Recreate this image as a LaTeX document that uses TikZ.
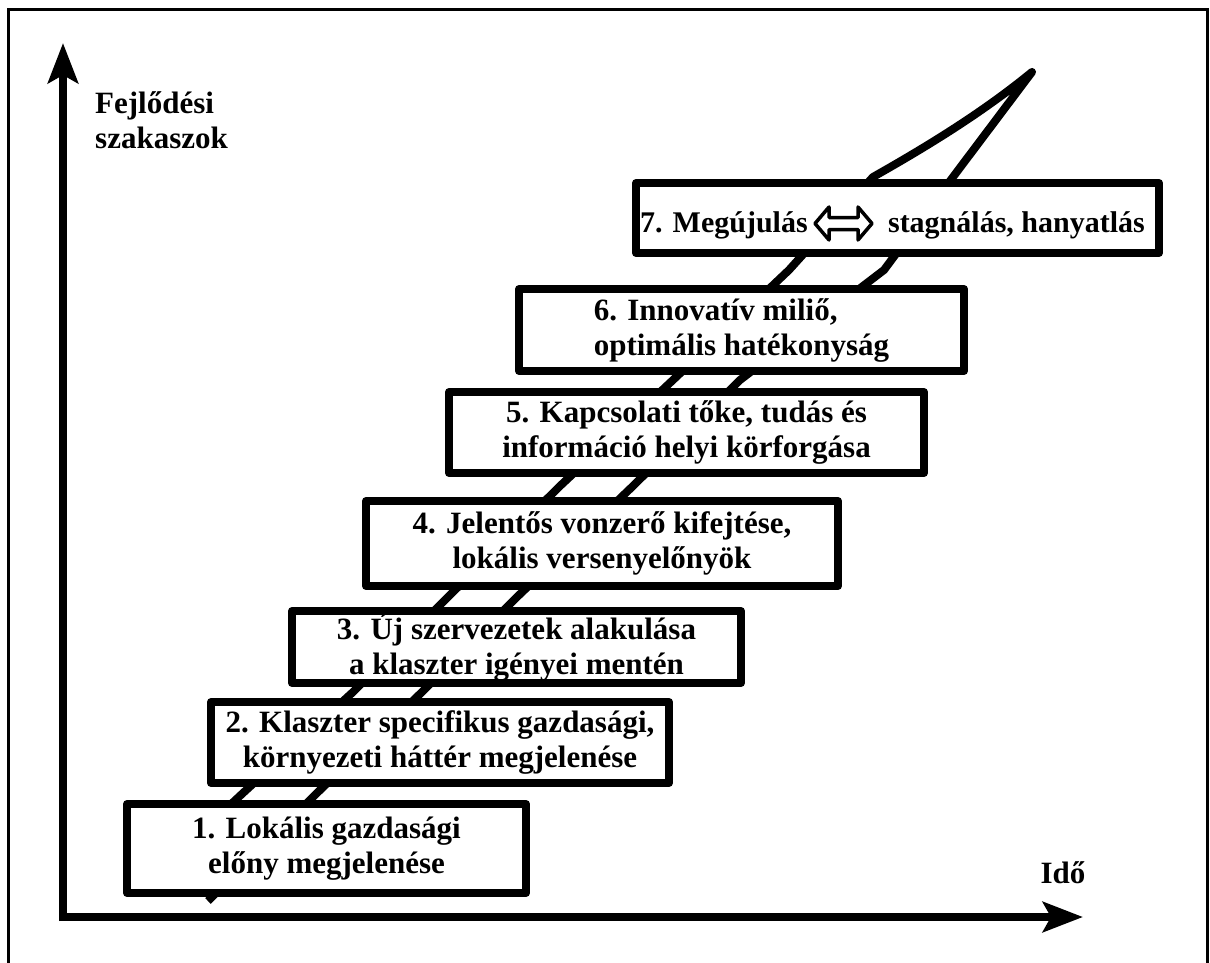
\documentclass[tikz,border=0pt]{standalone}
\usepackage{fontspec}
\setmainfont{Liberation Serif}
\usetikzlibrary{arrows.meta}
\begin{document}
\begin{tikzpicture}[x=1pt,y=-1pt,
  stage/.style={draw, line width=8pt, line join=round, fill=white, align=center, inner sep=0pt, font=\bfseries\fontsize{31}{35}\selectfont},
  rail/.style={line width=8pt, line join=round, line cap=butt},
  axis/.style={line width=8pt, -{Stealth[length=40pt,width=30pt,inset=8pt]}},
  lbl/.style={font=\bfseries\fontsize{31}{35}\selectfont, inner sep=0pt},
  toplbl/.style={font=\bfseries\fontsize{30}{35}\selectfont, inner sep=0pt},
  frame/.style={line width=3pt}]
\useasboundingbox (0,0) rectangle (1210,963);
\draw[frame] (8,970) -- (8,10) -- (1207,10) -- (1207,970);

% rails (the two sides of the ladder)
\coordinate (L0) at (150,880);
\coordinate (L1) at (243,793);
\coordinate (L2) at (353,692);
\coordinate (L3) at (448,597);
\coordinate (L4) at (560,486);
\coordinate (L5) at (673,380);
\coordinate (L6) at (789,270);
\coordinate (L7) at (873,177);
\coordinate (A)  at (1032,72);
\coordinate (R7) at (953,177);
\coordinate (R6) at (884,270);
\coordinate (R5) at (740,380);
\coordinate (R4) at (633,486);
\coordinate (R3) at (517,597);
\coordinate (R2) at (422,692);
\coordinate (R1) at (317,793);
\coordinate (R0) at (208,901);
\draw[rail] (L0) -- (L1) -- (L2) -- (L3) -- (L4) -- (L5) -- (L6) -- (L7)
  .. controls (926,147) and (982,113) .. (A) -- (R7) -- (R6) -- (R5) -- (R4) -- (R3) -- (R2) -- (R1) -- (R0);

% axes
\draw[axis] (63,921) -- (63,43);
\draw[axis] (59,917) -- (1083,917);
\node[lbl, align=left, anchor=north west] (ylab) at (95,91) {Fejlődési\\szakaszok};
\node[lbl, anchor=base] (xlab) at (1063,883) {Idő};

% stages
\node[stage, minimum width=399pt, minimum height=89pt] (b1) at (326.5,848.5) {1. Lokális gazdasági\\előny megjelenése};
\node[stage, minimum width=458pt, minimum height=81pt] (b2) at (440,742.5) {2. Klaszter specifikus gazdasági,\\környezeti háttér megjelenése};
\node[stage, minimum width=449pt, minimum height=72pt] (b3) at (516.5,647) {3. Új szervezetek alakulása\\a klaszter igényei mentén};
\node[stage, minimum width=472pt, minimum height=85pt] (b4) at (602,543.5) {4. Jelentős vonzerő kifejtése,\\lokális versenyelőnyök};
\node[stage, minimum width=475pt, minimum height=81pt] (b5) at (686.5,432.5) {5. Kapcsolati tőke, tudás és\\információ helyi körforgása};
\node[stage, align=left, minimum width=445pt, minimum height=82pt] (b6) at (741.5,330) {6. Innovatív miliő,\\optimális hatékonyság};
\node[stage, minimum width=523pt, minimum height=70pt] (b7) at (897.5,218) {};
\node[toplbl, anchor=base west] (t7a) at (640,232) {7. Megújulás};
\node[toplbl, anchor=base east] (t7b) at (1145,232) {stagnálás, hanyatlás};
\draw[line width=3.5pt, line join=round] (815,223.5) -- (829,207) -- (829,217.5) -- (858,217.5) -- (858,207) -- (872,223.5) -- (858,240) -- (858,229.5) -- (829,229.5) -- (829,240) -- cycle;
\end{tikzpicture}
\end{document}
